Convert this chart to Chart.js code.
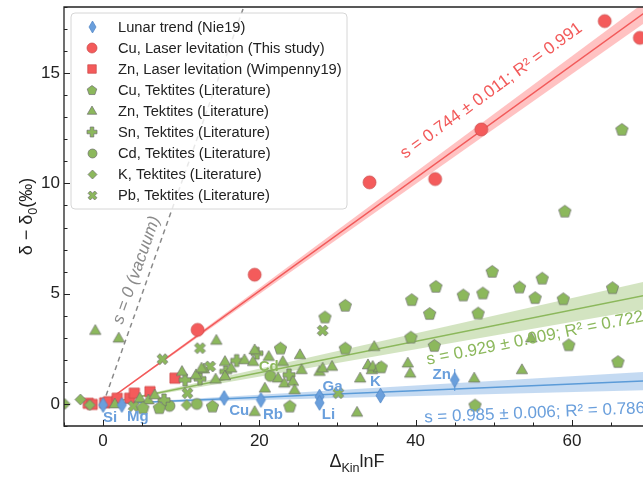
<!DOCTYPE html>
<html>
<head>
<meta charset="utf-8">
<script src="https://cdn.jsdelivr.net/npm/chart.js@4.4.0/dist/chart.umd.min.js"></script>
<style>
  html, body { margin: 0; padding: 0; background: #fff; }
</style>
</head>
<body>
<canvas id="myChart" width="643" height="477"></canvas>
<script>
const xTicks = [0, 20, 40, 60];
const yTicks = [0, 5, 10, 15];

// Lunar trend (Nie19)
const lunarNames = ["Si", "Mg", "Cu", "Rb", "Ga", "Li", "K", "Zn"];
const lunarX = [0, 2.4, 15.5, 20.2, 27.7, 27.7, 35.5, 45];
const lunarY = [-0.05, -0.05, 0.27, 0.18, 0.33, 0.05, 0.38, 1.09];
const lunarErr = [0, 0, 0.3, 0, 0, 0.25, 0, 0.5];

// Cu, laser levitation (this study)
const cuLaserX = [12.1, 19.4, 34.1, 42.5, 48.4, 64.2, 68.7];
const cuLaserY = [3.36, 5.86, 10.05, 10.2, 12.45, 17.36, 16.6];

// Zn, laser levitation (Wimpenny19)
const znLaserX = [-1.9, -1.4, 0.2, 0.7, 1.8, 3.4, 4.0, 6.0, 9.2];
const znLaserY = [0.03, -0.02, 0.05, 0.1, 0.26, 0.26, 0.49, 0.56, 1.17];

// tektites (literature)
const cuTekX = [59.1, 49.8, 56.2, 42.6, 53.3, 65.2, 39.5, 46.1, 48.6, 55.3, 58.9, 41.8, 48.0,
  39.4, 42.4, 59.6, 65.9, 47.6, 66.4, 31.0, 28.4, 22.7, 31.0, 23.9, 14.0, 5.1, 7.2, 35.6];
const cuTekY = [8.74, 6.01, 5.70, 5.33, 5.30, 5.27, 4.73, 4.94, 5.03, 4.82, 4.77, 4.10, 4.12,
  3.03, 2.65, 2.68, 1.92, -0.05, 12.45, 4.47, 3.94, 2.53, 2.53, -0.1, -0.1, -0.17, -0.17, 1.68];

const znTekX = [-1.0, 2.0, 1.5, 4.7, 5.8, 6.6, 10.1, 11.9, 12.9, 12.6, 14.4, 14.5, 15.6, 15.6,
  16.4, 18.1, 19.2, 19.4, 20.7, 21.2, 22.4, 23.0, 23.2, 24.3, 24.5, 25.2, 25.4, 27.7, 28.1,
  29.3, 19.4, 32.5, 32.9, 33.9, 34.4, 34.5, 35.3, 34.7, 39.0, 39.3, 47.5, 53.6, 54.8];
const znTekY = [3.33, 2.98, 0.0, 0.26, 0.18, 0.41, 1.47, 1.32, 1.58, 1.62, 1.12, 2.88, 1.92, 1.27,
  1.62, 2.0, 1.92, 2.45, 0.71, 2.15, 1.17, 1.92, 0.94, 1.02, 0.64, 2.23, 1.55, 1.47, 1.62,
  1.70, -0.35, -0.38, 1.17, 1.77, 1.55, 1.70, 1.63, 2.60, 1.85, 1.39, 1.17, 1.55, 2.99];

const snTekX = [7.8, 10.5, 12.4, 15.7, 17.1, 19.7, 23.8];
const snTekY = [0.18, 1.09, 1.14, 1.47, 1.97, 2.30, 1.32];

const cdTekX = [8.5, 12.0, 21.4];
const cdTekY = [-0.09, 0.0, 1.27];

const kTekX = [-4.9, -2.9, -1.7, 10.7];
const kTekY = [0.0, 0.2, -0.05, -0.05];

const pbTekX = [7.6, 12.4, 13.7, 10.8, 28.1, 30.1, 3.9];
const pbTekY = [2.03, 2.53, 1.70, 0.49, 3.33, 0.49, -0.1];

// fits: end points at x = 0 and x = 70
const fitX = [0, 70];
const cuFit = [0, 17.92], cuLow = [0, 17.45], cuHigh = [0, 18.4];
const tekFit = [0, 4.97], tekLow = [0, 4.34], tekHigh = [0, 5.6];
const lunarFit = [0, 1.05], lunarLow = [0, 0.63], lunarHigh = [0, 1.47];
const vacuumX = [0, 18.5], vacuumY = [0, 18.5];

const FONT = "'Liberation Sans', Arial, sans-serif";
const RED = "#f45b5b", GREEN = "#8cb85c", BLUE = "#6a9fdc";

function pts(xs, ys) {
  return xs.map((x, i) => ({ x: x, y: ys[i] }));
}

function marker(kind, size, fill, edge) {
  const pad = 2;
  const w = kind === "thin" ? Math.round(size * 0.62) : size;
  const c = document.createElement("canvas");
  c.width = w + pad * 2;
  c.height = size + pad * 2;
  const g = c.getContext("2d");
  const cx = c.width / 2, cy = c.height / 2, r = size / 2;
  g.beginPath();
  if (kind === "circle") {
    g.arc(cx, cy, r, 0, Math.PI * 2);
  } else if (kind === "square") {
    g.rect(cx - r * 0.85, cy - r * 0.85, r * 1.7, r * 1.7);
  } else if (kind === "pentagon") {
    for (let i = 0; i < 5; i++) {
      const a = -Math.PI / 2 + i * 2 * Math.PI / 5;
      const px = cx + r * Math.cos(a), py = cy + 0.5 + r * Math.sin(a);
      if (i) g.lineTo(px, py); else g.moveTo(px, py);
    }
    g.closePath();
  } else if (kind === "triangle") {
    g.moveTo(cx, cy - r);
    g.lineTo(cx + r * 0.95, cy + r * 0.65);
    g.lineTo(cx - r * 0.95, cy + r * 0.65);
    g.closePath();
  } else if (kind === "plus" || kind === "x") {
    const t = r * 0.36, R = kind === "x" ? r * 1.05 : r;
    const shape = [[-t, -R], [t, -R], [t, -t], [R, -t], [R, t], [t, t], [t, R], [-t, R], [-t, t], [-R, t], [-R, -t], [-t, -t]];
    const a = kind === "x" ? Math.PI / 4 : 0;
    shape.forEach((p, i) => {
      const px = cx + p[0] * Math.cos(a) - p[1] * Math.sin(a);
      const py = cy + p[0] * Math.sin(a) + p[1] * Math.cos(a);
      if (i) g.lineTo(px, py); else g.moveTo(px, py);
    });
    g.closePath();
  } else if (kind === "diamond") {
    g.moveTo(cx, cy - r); g.lineTo(cx + r, cy); g.lineTo(cx, cy + r); g.lineTo(cx - r, cy);
    g.closePath();
  } else if (kind === "thin") {
    g.moveTo(cx, cy - r); g.lineTo(cx + w / 2, cy); g.lineTo(cx, cy + r); g.lineTo(cx - w / 2, cy);
    g.closePath();
  }
  g.fillStyle = fill;
  g.fill();
  g.lineWidth = 0.7;
  g.strokeStyle = edge;
  g.stroke();
  return c;
}

const series = [
  { label: "Lunar trend (Nie19)", x: lunarX, y: lunarY, kind: "thin", size: 15, fill: BLUE, edge: "#4f84c4", order: 0 },
  { label: "Cu, Laser levitation (This study)", x: cuLaserX, y: cuLaserY, kind: "circle", size: 13, fill: RED, edge: "#c84848", order: 2 },
  { label: "Zn, Laser levitation (Wimpenny19)", x: znLaserX, y: znLaserY, kind: "square", size: 12, fill: RED, edge: "#c84848", order: 2 },
  { label: "Cu, Tektites (Literature)", x: cuTekX, y: cuTekY, kind: "pentagon", size: 13, fill: GREEN, edge: "#6e6e6e", order: 1 },
  { label: "Zn, Tektites (Literature)", x: znTekX, y: znTekY, kind: "triangle", size: 12, fill: GREEN, edge: "#6e6e6e", order: 1 },
  { label: "Sn, Tektites (Literature)", x: snTekX, y: snTekY, kind: "plus", size: 12, fill: GREEN, edge: "#6e6e6e", order: 1 },
  { label: "Cd, Tektites (Literature)", x: cdTekX, y: cdTekY, kind: "circle", size: 11, fill: GREEN, edge: "#6e6e6e", order: 1 },
  { label: "K, Tektites (Literature)", x: kTekX, y: kTekY, kind: "diamond", size: 11, fill: GREEN, edge: "#6e6e6e", order: 1 },
  { label: "Pb, Tektites (Literature)", x: pbTekX, y: pbTekY, kind: "x", size: 11, fill: GREEN, edge: "#6e6e6e", order: 1 }
];

function lineSet(xs, ys, color, width, order, extra) {
  return Object.assign({
    type: "line", data: pts(xs, ys), borderColor: color, borderWidth: width,
    pointRadius: 0, fill: false, order: order, tension: 0
  }, extra || {});
}

const datasets = [
  lineSet(fitX, cuLow, "transparent", 0, 10),
  lineSet(fitX, cuHigh, "transparent", 0, 10, { fill: "-1", backgroundColor: "rgba(255,120,120,0.45)" }),
  lineSet(fitX, tekLow, "transparent", 0, 10),
  lineSet(fitX, tekHigh, "transparent", 0, 10, { fill: "-1", backgroundColor: "rgba(140,184,92,0.38)" }),
  lineSet(fitX, lunarLow, "transparent", 0, 10),
  lineSet(fitX, lunarHigh, "transparent", 0, 10, { fill: "-1", backgroundColor: "rgba(100,158,220,0.38)" }),
  lineSet(vacuumX, vacuumY, "#8a8a8a", 1.5, 6, { borderDash: [5, 4] }),
  lineSet(fitX, cuFit, "#f25a5a", 1.5, 5),
  lineSet(fitX, tekFit, "#8cb85c", 1.5, 5),
  lineSet(fitX, lunarFit, "#5b9bd8", 1.5, 5)
];

series.forEach(s => {
  s.img = marker(s.kind, s.size, s.fill, s.edge);
  s.legendImg = marker(s.kind, Math.round(s.size * 0.8), s.fill, s.edge);
  datasets.push({
    type: "scatter", label: s.label, data: pts(s.x, s.y),
    pointStyle: s.img, pointRadius: s.size / 2, order: s.order
  });
});

const lunarLabelOffsets = [[7, 13], [16, 12], [15, 13], [12, 15], [13, -10], [9, 12], [-5, -14], [-13, -5]];

const notes = [
  { text: "s = 0.744 ± 0.011; R² = 0.991", x: 38.3, y: 11.28, fx: fitX, fy: cuFit, color: "#f25a5a", font: "17px " + FONT, align: "left" },
  { text: "s = 0.929 ± 0.009; R² = 0.722", x: 41.4, y: 1.99, fx: fitX, fy: tekFit, color: "#8cb85c", font: "17px " + FONT, align: "left" },
  { text: "s = 0.985 ± 0.006; R² = 0.786", x: 41.1, y: -0.63, fx: fitX, fy: lunarFit, color: "#6a9fdc", font: "17px " + FONT, align: "left" },
  { text: "s = 0 (vacuum)", x: 4.3, y: 6.07, fx: vacuumX, fy: vacuumY, color: "#8a8a8a", font: "italic 17px " + FONT, align: "center" },
  { text: "Cd", x: 21.2, y: 1.66, color: "#8cb85c", font: "bold 15px " + FONT, align: "center" }
];

const decor = {
  id: "decor",
  beforeDatasetsDraw(chart) {
    const ctx = chart.ctx, xs = chart.scales.x, ys = chart.scales.y;
    ctx.save();
    ctx.strokeStyle = BLUE;
    ctx.lineWidth = 1.2;
    lunarX.forEach((x, i) => {
      if (!lunarErr[i]) return;
      const px = xs.getPixelForValue(x);
      ctx.beginPath();
      ctx.moveTo(px, ys.getPixelForValue(lunarY[i] - lunarErr[i]));
      ctx.lineTo(px, ys.getPixelForValue(lunarY[i] + lunarErr[i]));
      ctx.stroke();
    });
    ctx.restore();
  },
  afterDatasetsDraw(chart) {
    const ctx = chart.ctx, xs = chart.scales.x, ys = chart.scales.y;
    const a = chart.chartArea;
    ctx.save();
    ctx.beginPath();
    ctx.rect(a.left, a.top, a.right - a.left, a.bottom - a.top);
    ctx.clip();
    // rotated fit annotations
    notes.forEach(n => {
      let ang = 0;
      if (n.fx) {
        const dx = xs.getPixelForValue(n.fx[1]) - xs.getPixelForValue(n.fx[0]);
        const dy = ys.getPixelForValue(n.fy[1]) - ys.getPixelForValue(n.fy[0]);
        ang = Math.atan2(dy, dx);
      }
      ctx.save();
      ctx.translate(xs.getPixelForValue(n.x), ys.getPixelForValue(n.y));
      ctx.rotate(ang);
      ctx.font = n.font;
      ctx.fillStyle = n.color;
      ctx.textAlign = n.align;
      ctx.textBaseline = "middle";
      ctx.fillText(n.text, 0, 0);
      ctx.restore();
    });
    // element names of the lunar trend
    ctx.font = "bold 15px " + FONT;
    ctx.fillStyle = BLUE;
    ctx.textAlign = "center";
    ctx.textBaseline = "middle";
    lunarNames.forEach((nm, i) => {
      ctx.fillText(nm, xs.getPixelForValue(lunarX[i]) + lunarLabelOffsets[i][0],
        ys.getPixelForValue(lunarY[i]) + lunarLabelOffsets[i][1]);
    });
    // legend
    const L = 71, T = 13, W = 276, H = 196, R = 4;
    ctx.beginPath();
    ctx.moveTo(L + R, T);
    ctx.arcTo(L + W, T, L + W, T + H, R);
    ctx.arcTo(L + W, T + H, L, T + H, R);
    ctx.arcTo(L, T + H, L, T, R);
    ctx.arcTo(L, T, L + W, T, R);
    ctx.closePath();
    ctx.fillStyle = "rgba(255,255,255,0.8)";
    ctx.fill();
    ctx.strokeStyle = "#d6d6d6";
    ctx.lineWidth = 1;
    ctx.stroke();
    ctx.font = "14.7px " + FONT;
    ctx.fillStyle = "#222";
    ctx.textAlign = "left";
    ctx.textBaseline = "middle";
    series.forEach((s, i) => {
      const y = 27 + i * 21;
      ctx.drawImage(s.legendImg, Math.round(92 - s.legendImg.width / 2), Math.round(y - s.legendImg.height / 2));
      ctx.fillText(s.label, 118, y + 1);
    });
    ctx.restore();
  },
  afterDraw(chart) {
    const ctx = chart.ctx, xs = chart.scales.x, ys = chart.scales.y;
    const a = chart.chartArea;
    ctx.save();
    ctx.strokeStyle = "#222";
    ctx.lineWidth = 1.3;
    ctx.beginPath();
    ctx.moveTo(a.right + 2, a.top);
    ctx.lineTo(a.left, a.top);
    ctx.lineTo(a.left, a.bottom);
    ctx.lineTo(a.right + 2, a.bottom);
    ctx.stroke();
    // inward ticks
    ctx.lineWidth = 1;
    ctx.beginPath();
    for (let v = -5; v <= 69; v += 5) {
      const px = Math.round(xs.getPixelForValue(v)) + 0.5;
      const len = xTicks.includes(v) ? 6 : 3.5;
      ctx.moveTo(px, a.bottom); ctx.lineTo(px, a.bottom - len);
    }
    for (let v = -1; v <= 18; v += 1) {
      const py = Math.round(ys.getPixelForValue(v)) + 0.5;
      const len = yTicks.includes(v) ? 6 : 3.5;
      ctx.moveTo(a.left, py); ctx.lineTo(a.left + len, py);
    }
    ctx.stroke();
    // x tick labels
    ctx.fillStyle = "#222";
    ctx.font = "17px " + FONT;
    ctx.textAlign = "center";
    ctx.textBaseline = "top";
    xTicks.forEach(v => ctx.fillText(String(v), xs.getPixelForValue(v), a.bottom + 7));
    // axis titles with subscripts
    ctx.textBaseline = "alphabetic";
    ctx.textAlign = "left";
    function rich(parts, size) {
      let w = 0;
      parts.forEach(p => {
        ctx.font = (p.sub ? size * 0.7 : size) + "px " + FONT;
        p.w = ctx.measureText(p.t).width;
        w += p.w;
      });
      let x = -w / 2;
      parts.forEach(p => {
        ctx.font = (p.sub ? size * 0.7 : size) + "px " + FONT;
        ctx.fillText(p.t, x, p.sub ? size * 0.3 : 0);
        x += p.w;
      });
    }
    ctx.save();
    ctx.translate(357, 467);
    rich([{ t: "Δ" }, { t: "Kin", sub: true }, { t: "lnF" }], 18);
    ctx.restore();
    ctx.save();
    ctx.translate(32, (a.top + a.bottom) / 2);
    ctx.rotate(-Math.PI / 2);
    rich([{ t: "δ − δ" }, { t: "0", sub: true }, { t: "(‰)" }], 18);
    ctx.restore();
    ctx.restore();
  }
};

let myChart = new Chart(document.getElementById("myChart").getContext("2d"), {
  type: "scatter",
  data: { datasets: datasets },
  options: {
    responsive: false,
    animation: false,
    layout: { autoPadding: false, padding: { top: 7, right: 0, left: 0, bottom: 0 } },
    plugins: { legend: { display: false }, tooltip: { enabled: false } },
    scales: {
      x: {
        type: "linear", min: -5, max: 69.1,
        grid: { display: false, drawTicks: false },
        border: { display: false },
        afterBuildTicks: s => { s.ticks = xTicks.map(v => ({ value: v })); },
        afterFit: s => { s.height = 51; s.paddingLeft = 0; s.paddingRight = 0; },
        ticks: { display: false }
      },
      y: {
        type: "linear", min: -1, max: 18,
        grid: { display: false, drawTicks: false },
        border: { display: false },
        afterBuildTicks: s => { s.ticks = yTicks.map(v => ({ value: v })); },
        afterFit: s => { s.width = 64; s.paddingTop = 0; s.paddingBottom = 0; },
        ticks: { font: { family: FONT, size: 17 }, color: "#222", padding: 4 }
      }
    }
  },
  plugins: [decor]
});
</script>
</body>
</html>
